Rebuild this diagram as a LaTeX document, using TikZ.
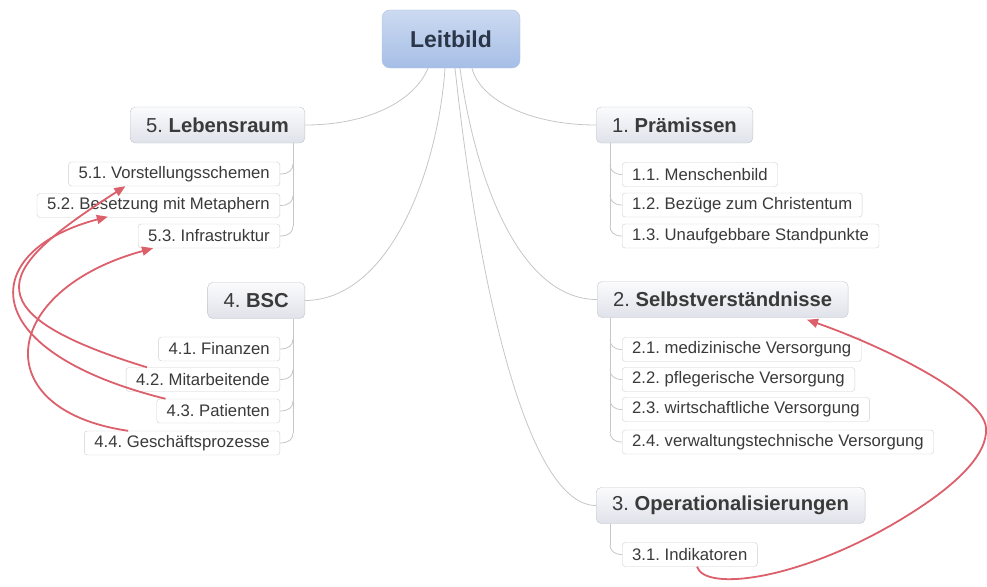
\documentclass[tikz,border=0pt]{standalone}
\usepackage{fontspec}
\setmainfont{Liberation Sans}
\usetikzlibrary{arrows.meta,calc}
\frenchspacing
\definecolor{edgegray}{HTML}{C6C6C6}
\definecolor{childborder}{HTML}{CFCFCF}
\definecolor{mainborder}{HTML}{C3C5CD}
\definecolor{maintop}{HTML}{FBFBFD}
\definecolor{mainbot}{HTML}{E0E2EA}
\definecolor{leittop}{HTML}{CCDAF1}
\definecolor{leitbot}{HTML}{A6BEE6}
\definecolor{leitborder}{HTML}{AEC2E4}
\definecolor{txt}{HTML}{3A3A3A}
\definecolor{leittxt}{HTML}{2B3648}
\definecolor{relred}{HTML}{DC5F6C}
\tikzset{
  leitbox/.style={draw=leitborder, rounded corners=8pt, top color=leittop, bottom color=leitbot,
    minimum width=138pt, minimum height=58pt, inner sep=0pt, text=leittxt,
    font=\fontsize{23}{26}\selectfont\bfseries},
  mainbox/.style={draw=mainborder, rounded corners=5pt, top color=maintop, bottom color=mainbot,
    minimum height=36pt, inner xsep=16pt, inner ysep=0pt, text=txt,
    font=\fontsize{20.2}{24}\selectfont},
  childbox/.style={draw=childborder, rounded corners=3pt, fill=white,
    minimum height=24pt, inner xsep=10pt, inner ysep=0pt, text=txt,
    font=\fontsize{16.7}{20}\selectfont},
  branch/.style={draw=edgegray, line width=0.8pt},
  hook/.style={draw=edgegray, line width=0.8pt},
  relation/.style={draw=relred, line width=1.8pt, -{Triangle[length=11pt,width=9pt]}},
}
\begin{document}
\begin{tikzpicture}[x=1pt,y=-1pt]
\useasboundingbox (0,0) rectangle (987,586);

% central node
\node[leitbox] (leit) at (451,39) {Leitbild};

% main topics
\node[mainbox, anchor=east] (l5) at (305,125) {5. \textbf{Lebensraum}};
\node[mainbox, anchor=east] (l4) at (305,300.5) {4. \textbf{BSC}};
\node[mainbox, anchor=west] (p1) at (596,125) {1. \textbf{Prämissen}};
\node[mainbox, anchor=west] (p2) at (597,299.5) {2. \textbf{Selbstverständnisse}};
\node[mainbox, anchor=west] (p3) at (596,505.5) {3. \textbf{Operationalisierungen}};

% children left
\node[childbox, anchor=east] (c51) at (280,174) {5.1. Vorstellungsschemen};
\node[childbox, anchor=east] (c52) at (280,205.5) {5.2. Besetzung mit Metaphern};
\node[childbox, anchor=east] (c53) at (280,236) {5.3. Infrastruktur};
\node[childbox, anchor=east] (c41) at (280,349) {4.1. Finanzen};
\node[childbox, anchor=east] (c42) at (280,379.5) {4.2. Mitarbeitende};
\node[childbox, anchor=east] (c43) at (280,411) {4.3. Patienten};
\node[childbox, anchor=east] (c44) at (280,443) {4.4. Geschäftsprozesse};

% children right
\node[childbox, anchor=west] (c11) at (622,174.5) {1.1. Menschenbild};
\node[childbox, anchor=west] (c12) at (622,205) {1.2. Bezüge zum Christentum};
\node[childbox, anchor=west] (c13) at (622,236) {1.3. Unaufgebbare Standpunkte};
\node[childbox, anchor=west] (c21) at (622,349.5) {2.1. medizinische Versorgung};
\node[childbox, anchor=west] (c22) at (622,379.5) {2.2. pflegerische Versorgung};
\node[childbox, anchor=west] (c23) at (622,409.5) {2.3. wirtschaftliche Versorgung};
\node[childbox, anchor=west] (c24) at (622,442) {2.4. verwaltungstechnische Versorgung};
\node[childbox, anchor=west] (c31) at (622,554.5) {3.1. Indikatoren};

% branches from central node
\draw[branch] ($(leit.south)+(-23,0)$) .. controls (415,100) and (370,125) .. (l5.east);
\draw[branch] ($(leit.south)+(-6,0)$) .. controls (438,170) and (390,300) .. (l4.east);
\draw[branch] ($(leit.south)+(21,0)$) .. controls (480,100) and (530,125) .. (p1.west);
\draw[branch] ($(leit.south)+(9,0)$) .. controls (475,180) and (520,299.5) .. (p2.west);
\draw[branch] ($(leit.south)+(4,0)$) .. controls (480,300) and (530,505.5) .. (p3.west);

% left trunks with hooks
\draw[hook] ($(l5.south east)+(-12,0)$) -- ($(c53.east)+(13,-10)$);
\foreach \c in {c51,c52,c53}
  \draw[hook] (\c.east) .. controls +(9,0) and +(0,6) .. ($(\c.east)+(13,-10)$);
\draw[hook] ($(l4.south east)+(-12,0)$) -- ($(c44.east)+(13,-10)$);
\foreach \c in {c41,c42,c43,c44}
  \draw[hook] (\c.east) .. controls +(9,0) and +(0,6) .. ($(\c.east)+(13,-10)$);

% right trunks with hooks
\draw[hook] ($(p1.south west)+(14,0)$) -- ($(c13.west)+(-12,-10)$);
\foreach \c in {c11,c12,c13}
  \draw[hook] (\c.west) .. controls +(-8,0) and +(0,6) .. ($(\c.west)+(-12,-10)$);
\draw[hook] ($(p2.south west)+(13,0)$) -- ($(c24.west)+(-12,-10)$);
\foreach \c in {c21,c22,c23,c24}
  \draw[hook] (\c.west) .. controls +(-8,0) and +(0,6) .. ($(\c.west)+(-12,-10)$);
\draw[hook] ($(p3.south west)+(14,0)$) -- ($(c31.west)+(-12,-10)$);
\draw[hook] (c31.west) .. controls +(-8,0) and +(0,6) .. ($(c31.west)+(-12,-10)$);

% relationships
\draw[relation] ($(c42.north west)+(21,0)$) .. controls (-40,310) and (3,265) .. ($(c51.south west)+(57,0)$);
\draw[relation] ($(c43.north west)+(9,0)$) .. controls (-30,350) and (-20,250) .. ($(c52.south west)+(71,-1)$);
\draw[relation] ($(c44.north west)+(44,0)$) .. controls (-15,410) and (0,290) .. ($(c53.south west)+(15,0)$);
\coordinate (r1) at (900,520);
\coordinate (r2) at (986,428);
\draw[relation] ($(c31.south west)+(75,0)$) .. controls (705,592) and (800,580) .. (r1)
  .. controls (955,487) and (988,455) .. (r2)
  .. controls (984,395) and (880,345) .. ($(p2.south west)+(210,2)$);
\end{tikzpicture}
\end{document}
